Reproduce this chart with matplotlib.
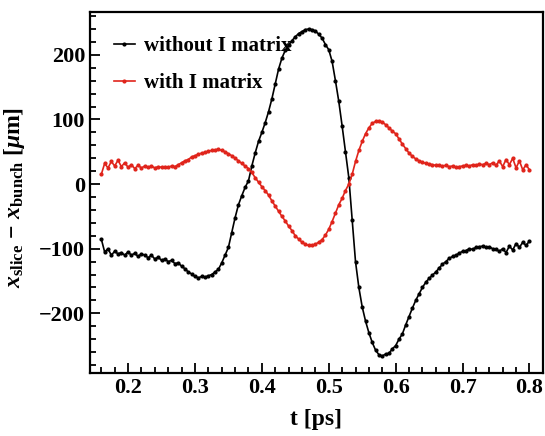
import matplotlib
matplotlib.use("Agg")
import matplotlib.pyplot as plt
from matplotlib.ticker import MultipleLocator

# slice time axis [ps]
t = [0.160 + 0.005 * i for i in range(129)]

# slice centroid offset without I matrix [um]
without_i = [
    -85, -105, -100, -110, -104, -108, -106, -110, -105, -110,
    -107, -112, -108, -110, -114, -110, -116, -113, -118, -116,
    -120, -118, -123, -122, -127, -131, -136, -139, -143, -145,
    -143, -144, -142, -140, -136, -132, -122, -110, -98, -75,
    -52, -32, -18, -5, 5, 28, 48, 66, 80, 95,
    112, 132, 155, 178, 195, 207, 215, 222, 228, 233,
    236, 239, 240, 239, 237, 232, 226, 216, 208, 190,
    160, 128, 90, 50, 10, -55, -120, -160, -190, -212,
    -230, -245, -257, -264, -266, -263, -262, -255, -250, -240,
    -232, -218, -205, -192, -180, -170, -160, -152, -146, -141,
    -136, -130, -124, -120, -115, -112, -110, -107, -104, -103,
    -100, -101, -98, -97, -96, -98, -97, -100, -101, -104,
    -100, -106, -96, -102, -92, -98, -90, -95, -88,
]

# slice centroid offset with I matrix [um]
with_i = [
    15, 32, 25, 35, 28, 37, 27, 33, 26, 30,
    24, 29, 25, 28, 26, 28, 25, 27, 26, 27,
    26, 28, 27, 30, 33, 36, 38, 42, 44, 46,
    48, 49, 51, 52, 53, 54, 52, 50, 47, 44,
    40, 36, 32, 28, 24, 18, 10, 3, -4, -10,
    -17, -26, -34, -42, -50, -57, -65, -72, -80, -85,
    -90, -93, -95, -95, -93, -90, -86, -79, -70, -58,
    -45, -32, -22, -10, 0, 15, 35, 52, 66, 78,
    87, 94, 97, 98, 96, 92, 87, 82, 78, 70,
    62, 55, 48, 43, 39, 36, 34, 32, 31, 30,
    29, 29, 28, 29, 27, 28, 26, 27, 28, 29,
    28, 30, 29, 31, 30, 32, 30, 33, 29, 36,
    27, 38, 30, 40, 25, 36, 22, 30, 22,
]

plt.rcParams['font.family'] = ['Liberation Serif', 'DejaVu Serif']
plt.rcParams['font.weight'] = 'bold'
plt.rcParams['mathtext.fontset'] = 'custom'
plt.rcParams['mathtext.rm'] = 'Liberation Serif:bold'
plt.rcParams['mathtext.it'] = 'Liberation Serif:italic:bold'

fig = plt.figure(figsize=(5.45, 4.36), dpi=100)
ax = fig.add_axes([0.165, 0.145, 0.831, 0.827])

ax.plot(t, without_i, color='black', lw=1.2, marker='o', ms=2.0,
        label='without I matrix')
ax.plot(t, with_i, color='#e0241b', lw=1.2, marker='o', ms=2.0,
        label='with I matrix')

ax.set_xlim(0.143, 0.82)
ax.set_ylim(-292, 266)
ax.xaxis.set_major_locator(MultipleLocator(0.1))
ax.xaxis.set_minor_locator(MultipleLocator(0.02))
ax.yaxis.set_major_locator(MultipleLocator(100))
ax.yaxis.set_minor_locator(MultipleLocator(20))
ax.tick_params(which='both', direction='in', top=False, right=False,
               labelsize=16, width=1.3)
ax.tick_params(which='major', length=7)
ax.tick_params(which='minor', length=4)
ax.xaxis.set_major_formatter(plt.FuncFormatter(lambda v, p: f'{v:.1f}'))
ax.yaxis.set_major_formatter(
    plt.FuncFormatter(lambda v, p: f'{int(v)}'.replace('-', '\u2212')))
for s in ax.spines.values():
    s.set_linewidth(1.6)

ax.set_xlabel('t [ps]', fontsize=17, fontweight='bold', labelpad=8)
ax.set_ylabel(r'$x_{\rm slice}\,-\,x_{\rm bunch}$ [$\mu$m]', fontsize=17,
              fontweight='bold')
ax.yaxis.set_label_coords(-0.138, 0.485)

ax.legend(loc='upper left', frameon=False, fontsize=15, handlelength=1.0,
          handletextpad=0.45, borderaxespad=0.75, labelspacing=0.8)

fig.savefig('out.png', dpi=100)
